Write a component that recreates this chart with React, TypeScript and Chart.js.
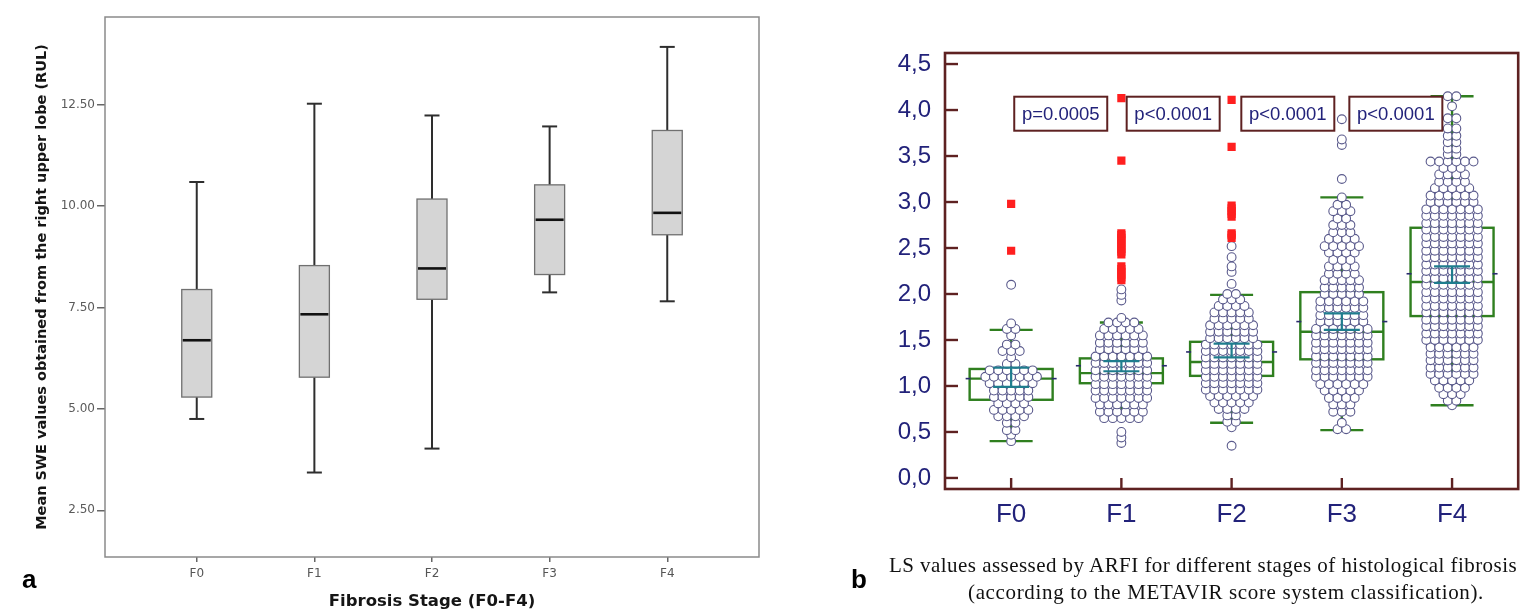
import React, { useEffect, useRef } from 'react';
import { Chart, registerables } from 'chart.js';

Chart.register(...registerables);

// ---------- Panel a : SWE (box plots) ----------
const stagesA = ['F0', 'F1', 'F2', 'F3', 'F4'];
const sweLow = [4.75, 3.43, 4.02, 7.87, 7.65];
const sweQ1 = [5.29, 5.78, 7.70, 8.31, 9.29];
const sweMedian = [6.69, 7.33, 8.46, 9.66, 9.83];
const sweQ3 = [7.94, 8.53, 10.17, 10.52, 11.86];
const sweHigh = [10.59, 12.52, 12.23, 11.96, 13.92];
const sweTicks = [2.5, 5, 7.5, 10, 12.5];
const sweTitleY = 'Mean SWE values obtained from the right upper lobe (RUL)';
const sweTitleX = 'Fibrosis Stage (F0-F4)';

// ---------- Panel b : LS by ARFI ----------
const stagesB = ['F0', 'F1', 'F2', 'F3', 'F4'];
const lsLow = [0.40, 0.65, 0.60, 0.52, 0.79];
const lsQ1 = [0.85, 1.03, 1.11, 1.29, 1.76];
const lsMedian = [1.08, 1.14, 1.26, 1.59, 2.13];
const lsQ3 = [1.185, 1.30, 1.48, 2.02, 2.72];
const lsHigh = [1.61, 1.69, 1.99, 3.05, 4.15];
const lsMean = [1.08, 1.22, 1.37, 1.70, 2.22];
const lsCiLow = [0.99, 1.16, 1.31, 1.61, 2.12];
const lsCiHigh = [1.20, 1.27, 1.46, 1.79, 2.30];
const lsTicks = [0, 0.5, 1, 1.5, 2, 2.5, 3, 3.5, 4, 4.5];

const pLabels = ['p=0.0005', 'p<0.0001', 'p<0.0001', 'p<0.0001'];
const pX = [0.45, 1.47, 2.51, 3.49];
const pY = 3.96;

// swarm rows (value level, number of dots in that row)
const f0Levels = [0.40, 0.47, 0.52, 0.60, 0.67, 0.74, 0.81, 0.88, 0.95, 1.03, 1.10, 1.17, 1.24, 1.31, 1.38, 1.45, 1.55, 1.62, 1.68, 2.10];
const f0Counts = [1, 1, 2, 2, 4, 5, 4, 5, 5, 6, 7, 6, 2, 1, 3, 2, 1, 2, 1, 1];

const f1Levels = [0.38, 0.44, 0.50, 0.65, 0.72, 0.80, 0.87, 0.95, 1.02, 1.10, 1.17, 1.25, 1.32, 1.40, 1.47, 1.55, 1.62, 1.69, 1.74, 1.93, 1.99, 2.05];
const f1Counts = [1, 1, 1, 5, 6, 6, 7, 7, 7, 7, 7, 7, 7, 6, 6, 6, 5, 4, 1, 1, 1, 1];

const f2Levels = [0.35, 0.55, 0.61, 0.68, 0.75, 0.82, 0.89, 0.96, 1.03, 1.10, 1.17, 1.24, 1.31, 1.38, 1.45, 1.52, 1.59, 1.66, 1.73, 1.80, 1.87, 1.94, 2.00, 2.11, 2.24, 2.30, 2.40, 2.52];
const f2Counts = [1, 1, 2, 2, 4, 5, 6, 7, 7, 7, 7, 7, 7, 7, 7, 6, 6, 6, 5, 5, 4, 3, 2, 1, 1, 1, 1, 1];

const f3Levels = [0.53, 0.60, 0.72, 0.80, 0.87, 0.95, 1.02, 1.10, 1.17, 1.25, 1.32, 1.40, 1.47, 1.55, 1.62, 1.70, 1.77, 1.85, 1.92, 2.00, 2.07, 2.15, 2.22, 2.30, 2.37, 2.45, 2.52, 2.60, 2.67, 2.75, 2.82, 2.90, 2.97, 3.05, 3.25, 3.62, 3.68, 3.90];
const f3Counts = [2, 1, 3, 3, 4, 5, 6, 7, 7, 7, 7, 7, 7, 7, 7, 6, 6, 6, 6, 5, 5, 5, 4, 4, 3, 4, 5, 4, 3, 3, 2, 3, 2, 1, 1, 1, 1, 1];

const f4Levels = [0.79, 0.84, 0.91, 0.98, 1.06, 1.13, 1.20, 1.28, 1.35, 1.42, 1.50, 1.57, 1.65, 1.72, 1.80, 1.87, 1.95, 2.02, 2.10, 2.17, 2.25, 2.32, 2.40, 2.47, 2.55, 2.62, 2.70, 2.77, 2.85, 2.92, 3.00, 3.07, 3.15, 3.22, 3.30, 3.37, 3.44, 3.52, 3.58, 3.65, 3.72, 3.80, 3.91, 4.04, 4.15];
const f4Counts = [1, 2, 3, 4, 5, 6, 6, 6, 6, 6, 7, 7, 7, 7, 7, 7, 7, 7, 7, 7, 7, 7, 7, 7, 7, 7, 7, 7, 7, 7, 6, 6, 5, 4, 4, 3, 6, 2, 2, 2, 2, 2, 2, 1, 2];

// extreme outliers (red squares)
const redF0 = [2.47, 2.98];
const redF1 = [2.15, 2.18, 2.21, 2.24, 2.27, 2.30, 2.43, 2.46, 2.49, 2.52, 2.55, 2.58, 2.61, 2.64, 2.66, 3.45, 4.13];
const redF2 = [2.61, 2.64, 2.66, 2.84, 2.87, 2.90, 2.93, 2.96, 3.60, 4.11];

const captionLine1 = 'LS values assessed by ARFI for different stages of histological fibrosis';
const captionLine2 = '(according to the METAVIR score system classification).';

const DOT_STEP = 0.078; // horizontal spacing of swarm dots, in x units

function line(ctx: CanvasRenderingContext2D, x1: number, y1: number, x2: number, y2: number) {
  ctx.beginPath();
  ctx.moveTo(x1, y1);
  ctx.lineTo(x2, y2);
  ctx.stroke();
}

const boxPluginA = {
  id: 'boxA',
  afterDatasetsDraw(chart: any) {
    const { ctx, chartArea, scales } = chart;
    const x = scales.x;
    const y = scales.y;
    ctx.save();
    for (let i = 0; i < stagesA.length; i++) {
      const cx = x.getPixelForValue(i);
      const half = 15;
      const cap = 7.5;
      const yl = y.getPixelForValue(sweLow[i]);
      const y1 = y.getPixelForValue(sweQ1[i]);
      const ym = y.getPixelForValue(sweMedian[i]);
      const y3 = y.getPixelForValue(sweQ3[i]);
      const yh = y.getPixelForValue(sweHigh[i]);
      ctx.strokeStyle = '#2e2e2e';
      ctx.lineWidth = 2;
      line(ctx, cx, yh, cx, y3);
      line(ctx, cx, y1, cx, yl);
      line(ctx, cx - cap, yh, cx + cap, yh);
      line(ctx, cx - cap, yl, cx + cap, yl);
      ctx.fillStyle = '#d5d5d5';
      ctx.fillRect(cx - half, y3, 2 * half, y1 - y3);
      ctx.strokeStyle = '#707070';
      ctx.lineWidth = 1.3;
      ctx.strokeRect(cx - half, y3, 2 * half, y1 - y3);
      ctx.strokeStyle = '#111';
      ctx.lineWidth = 2.6;
      line(ctx, cx - half + 1, ym, cx + half - 1, ym);
    }
    ctx.strokeStyle = '#8a8a8a';
    ctx.lineWidth = 1.5;
    ctx.strokeRect(chartArea.left, chartArea.top, chartArea.right - chartArea.left, chartArea.bottom - chartArea.top);
    ctx.restore();
  },
};

const boxPluginB = {
  id: 'boxB',
  beforeDatasetsDraw(chart: any) {
    const { ctx, scales } = chart;
    const x = scales.x;
    const y = scales.y;
    ctx.save();
    ctx.strokeStyle = '#2f7f1f';
    ctx.lineWidth = 2.4;
    for (let i = 0; i < stagesB.length; i++) {
      const cx = x.getPixelForValue(i);
      const half = 41.5;
      const cap = 21.5;
      const yl = y.getPixelForValue(lsLow[i]);
      const y1 = y.getPixelForValue(lsQ1[i]);
      const ym = y.getPixelForValue(lsMedian[i]);
      const y3 = y.getPixelForValue(lsQ3[i]);
      const yh = y.getPixelForValue(lsHigh[i]);
      line(ctx, cx, yh, cx, y3);
      line(ctx, cx, y1, cx, yl);
      line(ctx, cx - cap, yh, cx + cap, yh);
      line(ctx, cx - cap, yl, cx + cap, yl);
      ctx.strokeRect(cx - half, y3, 2 * half, y1 - y3);
      line(ctx, cx - half, ym, cx + half, ym);
    }
    ctx.restore();
  },
  afterDatasetsDraw(chart: any) {
    const { ctx, chartArea, scales } = chart;
    const x = scales.x;
    const y = scales.y;
    ctx.save();
    for (let i = 0; i < stagesB.length; i++) {
      const cx = x.getPixelForValue(i);
      const half = 41.5;
      const ci = 18;
      const ylo = y.getPixelForValue(lsCiLow[i]);
      const yhi = y.getPixelForValue(lsCiHigh[i]);
      const ymean = y.getPixelForValue(lsMean[i]);
      ctx.strokeStyle = '#1f7d8e';
      ctx.lineWidth = 2.2;
      line(ctx, cx - ci, yhi, cx + ci, yhi);
      line(ctx, cx - ci, ylo, cx + ci, ylo);
      line(ctx, cx, yhi, cx, ylo);
      ctx.strokeStyle = '#2a2a6e';
      ctx.lineWidth = 1.6;
      line(ctx, cx - half - 4, ymean, cx - half + 1, ymean);
      line(ctx, cx + half - 1, ymean, cx + half + 4, ymean);
    }
    // frame
    ctx.strokeStyle = '#5e2121';
    ctx.lineWidth = 2.6;
    ctx.strokeRect(chartArea.left, chartArea.top, chartArea.right - chartArea.left, chartArea.bottom - chartArea.top);
    // inward ticks
    ctx.lineWidth = 2.4;
    for (const v of lsTicks) {
      const py = y.getPixelForValue(v);
      line(ctx, chartArea.left, py, chartArea.left + 13, py);
    }
    for (let i = 0; i < stagesB.length; i++) {
      const px = x.getPixelForValue(i);
      line(ctx, px, chartArea.bottom, px, chartArea.bottom - 11);
    }
    // p-value boxes
    ctx.font = '18.5px "Liberation Sans", Arial, sans-serif';
    ctx.textAlign = 'center';
    ctx.textBaseline = 'middle';
    for (let i = 0; i < pLabels.length; i++) {
      const px = x.getPixelForValue(pX[i]);
      const py = y.getPixelForValue(pY);
      const w = 93;
      const h = 34;
      ctx.fillStyle = '#fff';
      ctx.fillRect(px - w / 2, py - h / 2, w, h);
      ctx.strokeStyle = '#5e2121';
      ctx.lineWidth = 2;
      ctx.strokeRect(px - w / 2, py - h / 2, w, h);
      ctx.fillStyle = '#22227a';
      ctx.fillText(pLabels[i], px, py + 1);
    }
    ctx.restore();
  },
};

function buildDots() {
  const levels = [f0Levels, f1Levels, f2Levels, f3Levels, f4Levels];
  const counts = [f0Counts, f1Counts, f2Counts, f3Counts, f4Counts];
  const pts: { x: number; y: number }[] = [];
  levels.forEach((lv, g) => {
    lv.forEach((v, k) => {
      const n = counts[g][k];
      for (let j = 0; j < n; j++) {
        pts.push({ x: g + (j - (n - 1) / 2) * DOT_STEP, y: v });
      }
    });
  });
  return pts;
}

function buildRed() {
  const groups = [redF0, redF1, redF2];
  const pts: { x: number; y: number }[] = [];
  groups.forEach((arr, g) => arr.forEach((v) => pts.push({ x: g, y: v })));
  return pts;
}

function LeftChart() {
  const ref = useRef<HTMLCanvasElement | null>(null);
  useEffect(() => {
    if (!ref.current) return;
    const chart = new Chart(ref.current, {
      type: 'scatter',
      data: {
        datasets: [
          {
            label: 'median',
            data: sweMedian.map((v, i) => ({ x: i, y: v })),
            pointRadius: 0,
            borderWidth: 0,
          },
        ],
      },
      options: {
        animation: false,
        responsive: false,
        devicePixelRatio: 1,
        events: [],
        layout: { padding: { left: 30, top: 17, right: 41, bottom: 0 } },
        plugins: { legend: { display: false }, tooltip: { enabled: false } },
        scales: {
          x: {
            type: 'linear',
            min: -0.78,
            max: 4.78,
            afterBuildTicks: (s: any) => {
              s.ticks = stagesA.map((_, i) => ({ value: i }));
            },
            afterFit: (s: any) => {
              s.height = 59;
            },
            ticks: {
              callback: (v: any) => stagesA[Number(v)] ?? '',
              color: '#555',
              font: { family: '"DejaVu Sans", Verdana, sans-serif', size: 12 },
              padding: 5,
              maxRotation: 0,
            },
            grid: { display: true, drawOnChartArea: false, drawTicks: true, tickLength: 5, color: '#666', lineWidth: 1.5 },
            border: { display: false },
            title: {
              display: true,
              text: sweTitleX,
              color: '#151515',
              font: { family: '"DejaVu Sans", Verdana, sans-serif', size: 16.5, weight: 'bold' },
              padding: { top: 4, bottom: 4 },
            },
          },
          y: {
            type: 'linear',
            min: 1.348,
            max: 14.657,
            afterBuildTicks: (s: any) => {
              s.ticks = sweTicks.map((v) => ({ value: v }));
            },
            afterFit: (s: any) => {
              s.width = 75;
            },
            ticks: {
              callback: (v: any) => Number(v).toFixed(2),
              color: '#5a5a5a',
              font: { family: '"DejaVu Sans", Verdana, sans-serif', size: 12 },
              padding: 2,
            },
            grid: { display: true, drawOnChartArea: false, drawTicks: true, tickLength: 8, color: '#666', lineWidth: 1.5 },
            border: { display: false },
            title: {
              display: true,
              text: sweTitleY,
              color: '#151515',
              font: { family: '"DejaVu Sans", Verdana, sans-serif', size: 14.5, weight: 'bold' },
              padding: { top: 4, bottom: 4 },
            },
          },
        },
      } as any,
      plugins: [boxPluginA],
    });
    return () => chart.destroy();
  }, []);
  return <canvas ref={ref} width={800} height={616} style={{ position: 'absolute', left: 0, top: 0, width: 800, height: 616 }} />;
}

function RightChart() {
  const ref = useRef<HTMLCanvasElement | null>(null);
  useEffect(() => {
    if (!ref.current) return;
    const chart = new Chart(ref.current, {
      type: 'scatter',
      data: {
        datasets: [
          {
            label: 'extreme',
            data: buildRed(),
            pointStyle: 'rect',
            pointRadius: 5.8,
            backgroundColor: '#ff1f1f',
            borderWidth: 0,
          },
          {
            label: 'LS',
            data: buildDots(),
            pointStyle: 'circle',
            pointRadius: 4.4,
            backgroundColor: '#ffffff',
            borderColor: '#5a5a8c',
            borderWidth: 1.1,
          },
        ],
      },
      options: {
        animation: false,
        responsive: false,
        devicePixelRatio: 1,
        events: [],
        layout: { padding: { left: 85, top: 53, right: 2, bottom: 82 } },
        plugins: { legend: { display: false }, tooltip: { enabled: false } },
        scales: {
          x: {
            type: 'linear',
            min: -0.6,
            max: 4.6,
            afterBuildTicks: (s: any) => {
              s.ticks = stagesB.map((_, i) => ({ value: i }));
            },
            afterFit: (s: any) => {
              s.height = 45;
            },
            ticks: {
              callback: (v: any) => stagesB[Number(v)] ?? '',
              color: '#22227a',
              font: { family: '"Liberation Sans", Arial, sans-serif', size: 26 },
              padding: 2,
              maxRotation: 0,
            },
            grid: { display: false },
            border: { display: false },
          },
          y: {
            type: 'linear',
            min: -0.12,
            max: 4.62,
            afterBuildTicks: (s: any) => {
              s.ticks = lsTicks.map((v) => ({ value: v }));
            },
            afterFit: (s: any) => {
              s.width = 60;
            },
            ticks: {
              callback: (v: any) => Number(v).toFixed(1).replace('.', ','),
              color: '#22227a',
              font: { family: '"Liberation Sans", Arial, sans-serif', size: 24 },
              padding: 6,
            },
            grid: { display: false },
            border: { display: false },
          },
        },
      } as any,
      plugins: [boxPluginB],
    });
    return () => chart.destroy();
  }, []);
  return <canvas ref={ref} width={724} height={616} style={{ position: 'absolute', left: 800, top: 0, width: 724, height: 616 }} />;
}

export default function App() {
  const letter: React.CSSProperties = {
    position: 'absolute',
    fontFamily: '"Liberation Sans", Arial, sans-serif',
    fontWeight: 'bold',
    fontSize: 26,
    lineHeight: '26px',
    color: '#000',
  };
  const caption: React.CSSProperties = {
    position: 'absolute',
    fontFamily: '"Liberation Serif", "Times New Roman", serif',
    fontSize: 21,
    lineHeight: '21px',
    color: '#111',
    whiteSpace: 'nowrap',
  };
  return (
    <div style={{ position: 'fixed', left: 0, top: 0, width: 1524, height: 616, background: '#fff', overflow: 'hidden' }}>
      <LeftChart />
      <RightChart />
      <div style={{ ...letter, left: 22, top: 566 }}>a</div>
      <div style={{ ...letter, left: 851, top: 566 }}>b</div>
      <div style={{ ...caption, left: 889, top: 555, letterSpacing: '0.45px' }}>{captionLine1}</div>
      <div style={{ ...caption, left: 968, top: 582, letterSpacing: '0.65px' }}>{captionLine2}</div>
    </div>
  );
}
